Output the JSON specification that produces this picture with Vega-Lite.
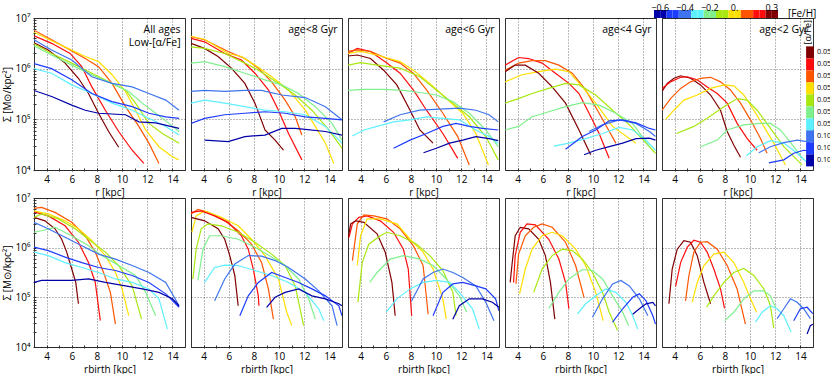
{
"$schema":"https://vega.github.io/schema/vega-lite/v6.json",
"background":"white",
"padding":{"left":2,"top":10,"right":0,"bottom":0},
"config":{
 "font":"Open Sans",
 "view":{"stroke":"#333","strokeWidth":1},
 "axis":{"labelFont":"Open Sans","labelFontSize":10,"labelColor":"#000","titleFont":"Open Sans","titleFontSize":10,"titleFontWeight":"normal","titleColor":"#000","grid":true,"gridColor":"#000","gridDash":[1,2],"domain":false,"tickColor":"#333","tickSize":-3,"labelPadding":6,"labelOverlap":false,"titlePadding":3}
,
 "legend":{"labelFont":"Open Sans","titleFont":"Open Sans","titleFontWeight":"normal","labelColor":"#000","titleColor":"#000"}
},
"datasets":{
"top":[
{"panel":"all","label":"All ages\nLow-[α/Fe]"},{"panel":"8","label":"age<8 Gyr"},{"panel":"6","label":"age<6 Gyr"},{"panel":"4","label":"age<4 Gyr"},{"panel":"2","label":"age<2 Gyr"},
{"panel":"all","feh":0.3,"r":3.0,"logS":6.51},{"panel":"all","feh":0.3,"r":4.13,"logS":6.37},{"panel":"all","feh":0.3,"r":5.47,"logS":6.11},{"panel":"all","feh":0.3,"r":6.53,"logS":5.81},{"panel":"all","feh":0.3,"r":7.33,"logS":5.51},{"panel":"all","feh":0.3,"r":8.13,"logS":5.12},{"panel":"all","feh":0.3,"r":8.93,"logS":4.76},{"panel":"all","feh":0.3,"r":9.73,"logS":4.45},
{"panel":"all","feh":0.2,"r":3.0,"logS":6.65},{"panel":"all","feh":0.2,"r":4.4,"logS":6.5},{"panel":"all","feh":0.2,"r":5.87,"logS":6.3},{"panel":"all","feh":0.2,"r":6.8,"logS":6.04},{"panel":"all","feh":0.2,"r":7.6,"logS":5.64},{"panel":"all","feh":0.2,"r":8.67,"logS":5.18},{"panel":"all","feh":0.2,"r":9.73,"logS":4.76},{"panel":"all","feh":0.2,"r":10.8,"logS":4.39},{"panel":"all","feh":0.2,"r":11.73,"logS":4.13},
{"panel":"all","feh":0.1,"r":3.0,"logS":6.76},{"panel":"all","feh":0.1,"r":4.4,"logS":6.57},{"panel":"all","feh":0.1,"r":5.87,"logS":6.37},{"panel":"all","feh":0.1,"r":7.07,"logS":6.2},{"panel":"all","feh":0.1,"r":8.13,"logS":6.04},{"panel":"all","feh":0.1,"r":9.2,"logS":5.71},{"panel":"all","feh":0.1,"r":10.27,"logS":5.25},{"panel":"all","feh":0.1,"r":11.33,"logS":4.86},{"panel":"all","feh":0.1,"r":12.13,"logS":4.53},{"panel":"all","feh":0.1,"r":12.93,"logS":4.13},
{"panel":"all","feh":0,"r":3.0,"logS":6.72},{"panel":"all","feh":0,"r":4.4,"logS":6.55},{"panel":"all","feh":0,"r":5.87,"logS":6.38},{"panel":"all","feh":0,"r":7.07,"logS":6.24},{"panel":"all","feh":0,"r":8.13,"logS":6.14},{"panel":"all","feh":0,"r":9.2,"logS":5.88},{"panel":"all","feh":0,"r":10.27,"logS":5.55},{"panel":"all","feh":0,"r":11.07,"logS":5.18},{"panel":"all","feh":0,"r":11.87,"logS":4.79},{"panel":"all","feh":0,"r":12.93,"logS":4.46},{"panel":"all","feh":0,"r":14.0,"logS":4.26},{"panel":"all","feh":0,"r":14.5,"logS":4.2},
{"panel":"all","feh":-0.1,"r":3.0,"logS":6.49},{"panel":"all","feh":-0.1,"r":4.4,"logS":6.3},{"panel":"all","feh":-0.1,"r":6.0,"logS":6.11},{"panel":"all","feh":-0.1,"r":7.6,"logS":5.91},{"panel":"all","feh":-0.1,"r":9.2,"logS":5.71},{"panel":"all","feh":-0.1,"r":10.27,"logS":5.58},{"panel":"all","feh":-0.1,"r":11.07,"logS":5.32},{"panel":"all","feh":-0.1,"r":12.13,"logS":4.92},{"panel":"all","feh":-0.1,"r":13.2,"logS":4.72},{"panel":"all","feh":-0.1,"r":14.53,"logS":4.53},
{"panel":"all","feh":-0.2,"r":3.0,"logS":6.45},{"panel":"all","feh":-0.2,"r":4.4,"logS":6.27},{"panel":"all","feh":-0.2,"r":6.0,"logS":6.07},{"panel":"all","feh":-0.2,"r":7.6,"logS":5.88},{"panel":"all","feh":-0.2,"r":9.2,"logS":5.71},{"panel":"all","feh":-0.2,"r":10.53,"logS":5.55},{"panel":"all","feh":-0.2,"r":11.6,"logS":5.32},{"panel":"all","feh":-0.2,"r":12.67,"logS":5.12},{"panel":"all","feh":-0.2,"r":13.73,"logS":4.92},{"panel":"all","feh":-0.2,"r":14.53,"logS":4.76},
{"panel":"all","feh":-0.3,"r":3.0,"logS":6.0},{"panel":"all","feh":-0.3,"r":4.4,"logS":5.91},{"panel":"all","feh":-0.3,"r":6.0,"logS":5.68},{"panel":"all","feh":-0.3,"r":7.6,"logS":5.51},{"panel":"all","feh":-0.3,"r":9.2,"logS":5.32},{"panel":"all","feh":-0.3,"r":10.8,"logS":5.18},{"panel":"all","feh":-0.3,"r":12.13,"logS":5.02},{"panel":"all","feh":-0.3,"r":13.47,"logS":4.86},{"panel":"all","feh":-0.3,"r":14.53,"logS":4.69},
{"panel":"all","feh":-0.4,"r":3.0,"logS":6.57},{"panel":"all","feh":-0.4,"r":4.4,"logS":6.37},{"panel":"all","feh":-0.4,"r":6.0,"logS":6.17},{"panel":"all","feh":-0.4,"r":7.6,"logS":5.84},{"panel":"all","feh":-0.4,"r":9.2,"logS":5.71},{"panel":"all","feh":-0.4,"r":10.8,"logS":5.64},{"panel":"all","feh":-0.4,"r":12.13,"logS":5.51},{"panel":"all","feh":-0.4,"r":13.47,"logS":5.38},{"panel":"all","feh":-0.4,"r":14.53,"logS":5.18},
{"panel":"all","feh":-0.5,"r":3.0,"logS":6.1},{"panel":"all","feh":-0.5,"r":4.4,"logS":6.0},{"panel":"all","feh":-0.5,"r":6.0,"logS":5.78},{"panel":"all","feh":-0.5,"r":7.6,"logS":5.51},{"panel":"all","feh":-0.5,"r":9.2,"logS":5.35},{"panel":"all","feh":-0.5,"r":10.8,"logS":5.25},{"panel":"all","feh":-0.5,"r":12.13,"logS":5.12},{"panel":"all","feh":-0.5,"r":13.47,"logS":5.05},{"panel":"all","feh":-0.5,"r":14.53,"logS":5.02},
{"panel":"all","feh":-0.6,"r":3.0,"logS":5.57},{"panel":"all","feh":-0.6,"r":4.4,"logS":5.45},{"panel":"all","feh":-0.6,"r":6.0,"logS":5.28},{"panel":"all","feh":-0.6,"r":7.07,"logS":5.18},{"panel":"all","feh":-0.6,"r":8.13,"logS":5.12},{"panel":"all","feh":-0.6,"r":10.27,"logS":5.09},{"panel":"all","feh":-0.6,"r":11.33,"logS":4.95},{"panel":"all","feh":-0.6,"r":12.67,"logS":4.93},{"panel":"all","feh":-0.6,"r":14.53,"logS":4.82},

{"panel":"8","feh":0.1,"r":3.0,"logS":6.63},{"panel":"8","feh":0.1,"r":4.08,"logS":6.57},{"panel":"8","feh":0.1,"r":5.95,"logS":6.34},{"panel":"8","feh":0.1,"r":7.28,"logS":6.2},{"panel":"8","feh":0.1,"r":8.35,"logS":6.01},{"panel":"8","feh":0.1,"r":9.41,"logS":5.74},{"panel":"8","feh":0.1,"r":10.48,"logS":5.38},{"panel":"8","feh":0.1,"r":11.28,"logS":5.05},{"panel":"8","feh":0.1,"r":11.81,"logS":4.69},
{"panel":"8","feh":0,"r":3.0,"logS":6.64},{"panel":"8","feh":0,"r":4.08,"logS":6.58},{"panel":"8","feh":0,"r":5.95,"logS":6.3},{"panel":"8","feh":0,"r":7.01,"logS":6.24},{"panel":"8","feh":0,"r":8.08,"logS":6.07},{"panel":"8","feh":0,"r":9.41,"logS":5.84},{"panel":"8","feh":0,"r":10.75,"logS":5.58},{"panel":"8","feh":0,"r":12.08,"logS":5.18},{"panel":"8","feh":0,"r":12.88,"logS":4.86},{"panel":"8","feh":0,"r":13.68,"logS":4.53},{"panel":"8","feh":0,"r":14.35,"logS":4.13},
{"panel":"8","feh":0.2,"r":3.0,"logS":6.6},{"panel":"8","feh":0.2,"r":4.08,"logS":6.53},{"panel":"8","feh":0.2,"r":5.68,"logS":6.3},{"panel":"8","feh":0.2,"r":7.01,"logS":6.17},{"panel":"8","feh":0.2,"r":8.08,"logS":5.91},{"panel":"8","feh":0.2,"r":9.15,"logS":5.58},{"panel":"8","feh":0.2,"r":9.95,"logS":5.18},{"panel":"8","feh":0.2,"r":10.75,"logS":4.72},{"panel":"8","feh":0.2,"r":11.81,"logS":4.2},
{"panel":"8","feh":0.3,"r":3.0,"logS":6.5},{"panel":"8","feh":0.3,"r":4.08,"logS":6.4},{"panel":"8","feh":0.3,"r":5.15,"logS":6.24},{"panel":"8","feh":0.3,"r":6.21,"logS":6.01},{"panel":"8","feh":0.3,"r":7.28,"logS":5.71},{"panel":"8","feh":0.3,"r":8.08,"logS":5.32},{"panel":"8","feh":0.3,"r":8.88,"logS":4.79},{"panel":"8","feh":0.3,"r":9.68,"logS":4.59},{"panel":"8","feh":0.3,"r":10.35,"logS":4.39},
{"panel":"8","feh":-0.1,"r":3.0,"logS":6.43},{"panel":"8","feh":-0.1,"r":4.08,"logS":6.4},{"panel":"8","feh":-0.1,"r":5.68,"logS":6.3},{"panel":"8","feh":-0.1,"r":7.28,"logS":6.11},{"panel":"8","feh":-0.1,"r":8.35,"logS":5.97},{"panel":"8","feh":-0.1,"r":9.95,"logS":5.71},{"panel":"8","feh":-0.1,"r":11.28,"logS":5.48},{"panel":"8","feh":-0.1,"r":12.61,"logS":5.18},{"panel":"8","feh":-0.1,"r":13.95,"logS":4.79},{"panel":"8","feh":-0.1,"r":15.0,"logS":4.43},
{"panel":"8","feh":-0.2,"r":3.0,"logS":6.11},{"panel":"8","feh":-0.2,"r":4.08,"logS":6.14},{"panel":"8","feh":-0.2,"r":5.68,"logS":6.04},{"panel":"8","feh":-0.2,"r":7.28,"logS":5.91},{"panel":"8","feh":-0.2,"r":8.88,"logS":5.78},{"panel":"8","feh":-0.2,"r":10.21,"logS":5.68},{"panel":"8","feh":-0.2,"r":11.55,"logS":5.51},{"panel":"8","feh":-0.2,"r":12.88,"logS":5.25},{"panel":"8","feh":-0.2,"r":14.21,"logS":4.92},{"panel":"8","feh":-0.2,"r":15.0,"logS":4.59},
{"panel":"8","feh":-0.3,"r":3.0,"logS":5.32},{"panel":"8","feh":-0.3,"r":4.08,"logS":5.38},{"panel":"8","feh":-0.3,"r":5.68,"logS":5.32},{"panel":"8","feh":-0.3,"r":7.28,"logS":5.25},{"panel":"8","feh":-0.3,"r":8.88,"logS":5.18},{"panel":"8","feh":-0.3,"r":10.48,"logS":5.15},{"panel":"8","feh":-0.3,"r":12.08,"logS":5.09},{"panel":"8","feh":-0.3,"r":13.68,"logS":4.86},{"panel":"8","feh":-0.3,"r":15.0,"logS":4.53},
{"panel":"8","feh":-0.4,"r":3.0,"logS":5.55},{"panel":"8","feh":-0.4,"r":4.08,"logS":5.57},{"panel":"8","feh":-0.4,"r":5.68,"logS":5.55},{"panel":"8","feh":-0.4,"r":7.28,"logS":5.57},{"panel":"8","feh":-0.4,"r":8.61,"logS":5.57},{"panel":"8","feh":-0.4,"r":10.21,"logS":5.48},{"panel":"8","feh":-0.4,"r":12.08,"logS":5.43},{"panel":"8","feh":-0.4,"r":13.68,"logS":5.25},{"panel":"8","feh":-0.4,"r":15.0,"logS":4.99},
{"panel":"8","feh":-0.5,"r":3.0,"logS":4.92},{"panel":"8","feh":-0.5,"r":4.08,"logS":5.02},{"panel":"8","feh":-0.5,"r":5.68,"logS":5.09},{"panel":"8","feh":-0.5,"r":7.28,"logS":5.12},{"panel":"8","feh":-0.5,"r":8.88,"logS":5.15},{"panel":"8","feh":-0.5,"r":10.48,"logS":5.12},{"panel":"8","feh":-0.5,"r":12.08,"logS":5.05},{"panel":"8","feh":-0.5,"r":13.68,"logS":5.02},{"panel":"8","feh":-0.5,"r":15.0,"logS":4.99},
{"panel":"8","feh":-0.6,"r":4.08,"logS":4.59},{"panel":"8","feh":-0.6,"r":5.95,"logS":4.56},{"panel":"8","feh":-0.6,"r":7.28,"logS":4.66},{"panel":"8","feh":-0.6,"r":8.88,"logS":4.69},{"panel":"8","feh":-0.6,"r":10.21,"logS":4.82},{"panel":"8","feh":-0.6,"r":11.28,"logS":4.82},{"panel":"8","feh":-0.6,"r":12.08,"logS":4.8},{"panel":"8","feh":-0.6,"r":13.68,"logS":4.76},{"panel":"8","feh":-0.6,"r":15.0,"logS":4.69},

{"panel":"6","feh":0.2,"r":3.01,"logS":6.3},{"panel":"6","feh":0.2,"r":3.74,"logS":6.4},{"panel":"6","feh":0.2,"r":4.79,"logS":6.34},{"panel":"6","feh":0.2,"r":6.09,"logS":6.11},{"panel":"6","feh":0.2,"r":7.14,"logS":5.91},{"panel":"6","feh":0.2,"r":8.19,"logS":5.58},{"panel":"6","feh":0.2,"r":9.24,"logS":5.18},{"panel":"6","feh":0.2,"r":10.54,"logS":4.72},{"panel":"6","feh":0.2,"r":11.72,"logS":4.23},
{"panel":"6","feh":0.1,"r":3.01,"logS":6.34},{"panel":"6","feh":0.1,"r":3.74,"logS":6.37},{"panel":"6","feh":0.1,"r":4.79,"logS":6.34},{"panel":"6","feh":0.1,"r":6.09,"logS":6.2},{"panel":"6","feh":0.1,"r":7.14,"logS":6.11},{"panel":"6","feh":0.1,"r":8.19,"logS":5.91},{"panel":"6","feh":0.1,"r":9.24,"logS":5.58},{"panel":"6","feh":0.1,"r":10.54,"logS":5.12},{"panel":"6","feh":0.1,"r":11.72,"logS":4.66},{"panel":"6","feh":0.1,"r":12.64,"logS":4.1},
{"panel":"6","feh":0,"r":3.01,"logS":6.3},{"panel":"6","feh":0,"r":4.0,"logS":6.34},{"panel":"6","feh":0,"r":5.31,"logS":6.27},{"panel":"6","feh":0,"r":7.14,"logS":6.14},{"panel":"6","feh":0,"r":8.19,"logS":5.97},{"panel":"6","feh":0,"r":9.5,"logS":5.71},{"panel":"6","feh":0,"r":10.81,"logS":5.41},{"panel":"6","feh":0,"r":12.12,"logS":5.12},{"panel":"6","feh":0,"r":13.16,"logS":4.72},{"panel":"6","feh":0,"r":14.16,"logS":4.1},
{"panel":"6","feh":0.3,"r":3.01,"logS":6.25},{"panel":"6","feh":0.3,"r":3.74,"logS":6.27},{"panel":"6","feh":0.3,"r":4.79,"logS":6.2},{"panel":"6","feh":0.3,"r":5.83,"logS":5.97},{"panel":"6","feh":0.3,"r":6.88,"logS":5.68},{"panel":"6","feh":0.3,"r":7.93,"logS":5.18},{"panel":"6","feh":0.3,"r":8.71,"logS":4.79},{"panel":"6","feh":0.3,"r":9.76,"logS":4.53},
{"panel":"6","feh":-0.1,"r":3.01,"logS":6.07},{"panel":"6","feh":-0.1,"r":4.0,"logS":6.12},{"panel":"6","feh":-0.1,"r":5.31,"logS":6.07},{"panel":"6","feh":-0.1,"r":7.14,"logS":6.01},{"panel":"6","feh":-0.1,"r":8.71,"logS":5.84},{"panel":"6","feh":-0.1,"r":10.02,"logS":5.58},{"panel":"6","feh":-0.1,"r":11.33,"logS":5.32},{"panel":"6","feh":-0.1,"r":12.64,"logS":5.05},{"panel":"6","feh":-0.1,"r":13.95,"logS":4.66},{"panel":"6","feh":-0.1,"r":14.94,"logS":4.2},
{"panel":"6","feh":-0.2,"r":3.01,"logS":5.57},{"panel":"6","feh":-0.2,"r":4.26,"logS":5.59},{"panel":"6","feh":-0.2,"r":5.83,"logS":5.59},{"panel":"6","feh":-0.2,"r":7.4,"logS":5.57},{"panel":"6","feh":-0.2,"r":8.71,"logS":5.53},{"panel":"6","feh":-0.2,"r":10.02,"logS":5.48},{"panel":"6","feh":-0.2,"r":11.33,"logS":5.35},{"panel":"6","feh":-0.2,"r":12.64,"logS":5.12},{"panel":"6","feh":-0.2,"r":13.95,"logS":4.79},{"panel":"6","feh":-0.2,"r":14.94,"logS":4.46},
{"panel":"6","feh":-0.4,"r":5.83,"logS":4.95},{"panel":"6","feh":-0.4,"r":7.14,"logS":5.09},{"panel":"6","feh":-0.4,"r":8.71,"logS":5.18},{"panel":"6","feh":-0.4,"r":10.28,"logS":5.2},{"panel":"6","feh":-0.4,"r":11.85,"logS":5.22},{"panel":"6","feh":-0.4,"r":13.16,"logS":5.18},{"panel":"6","feh":-0.4,"r":14.21,"logS":5.09},{"panel":"6","feh":-0.4,"r":14.94,"logS":4.95},
{"panel":"6","feh":-0.3,"r":3.35,"logS":4.67},{"panel":"6","feh":-0.3,"r":4.26,"logS":4.79},{"panel":"6","feh":-0.3,"r":5.31,"logS":4.86},{"panel":"6","feh":-0.3,"r":6.62,"logS":4.95},{"panel":"6","feh":-0.3,"r":7.93,"logS":4.99},{"panel":"6","feh":-0.3,"r":9.24,"logS":5.05},{"panel":"6","feh":-0.3,"r":10.54,"logS":5.02},{"panel":"6","feh":-0.3,"r":11.85,"logS":4.99},{"panel":"6","feh":-0.3,"r":13.16,"logS":4.79},{"panel":"6","feh":-0.3,"r":14.21,"logS":4.66},{"panel":"6","feh":-0.3,"r":14.94,"logS":4.53},
{"panel":"6","feh":-0.5,"r":6.62,"logS":4.43},{"panel":"6","feh":-0.5,"r":7.93,"logS":4.59},{"panel":"6","feh":-0.5,"r":9.24,"logS":4.72},{"panel":"6","feh":-0.5,"r":10.54,"logS":4.86},{"panel":"6","feh":-0.5,"r":11.59,"logS":4.92},{"panel":"6","feh":-0.5,"r":12.64,"logS":4.86},{"panel":"6","feh":-0.5,"r":13.69,"logS":4.82},{"panel":"6","feh":-0.5,"r":14.94,"logS":4.79},
{"panel":"6","feh":-0.6,"r":9.0,"logS":4.34},{"panel":"6","feh":-0.6,"r":10.02,"logS":4.43},{"panel":"6","feh":-0.6,"r":11.07,"logS":4.53},{"panel":"6","feh":-0.6,"r":12.12,"logS":4.59},{"panel":"6","feh":-0.6,"r":13.16,"logS":4.66},{"panel":"6","feh":-0.6,"r":14.21,"logS":4.62},{"panel":"6","feh":-0.6,"r":14.94,"logS":4.58},

{"panel":"4","feh":0.2,"r":3.01,"logS":6.07},{"panel":"4","feh":0.2,"r":4.08,"logS":6.22},{"panel":"4","feh":0.2,"r":4.88,"logS":6.2},{"panel":"4","feh":0.2,"r":5.95,"logS":6.11},{"panel":"4","feh":0.2,"r":7.01,"logS":5.91},{"panel":"4","feh":0.2,"r":8.08,"logS":5.71},{"panel":"4","feh":0.2,"r":8.88,"logS":5.51},{"panel":"4","feh":0.2,"r":9.68,"logS":5.12},{"panel":"4","feh":0.2,"r":10.48,"logS":4.72},{"panel":"4","feh":0.2,"r":11.28,"logS":4.23},
{"panel":"4","feh":0.1,"r":3.01,"logS":5.97},{"panel":"4","feh":0.1,"r":4.08,"logS":6.11},{"panel":"4","feh":0.1,"r":5.15,"logS":6.16},{"panel":"4","feh":0.1,"r":6.21,"logS":6.16},{"panel":"4","feh":0.1,"r":7.28,"logS":6.07},{"panel":"4","feh":0.1,"r":8.35,"logS":5.91},{"panel":"4","feh":0.1,"r":9.41,"logS":5.58},{"panel":"4","feh":0.1,"r":10.48,"logS":5.12},{"panel":"4","feh":0.1,"r":11.81,"logS":4.53},
{"panel":"4","feh":0,"r":3.01,"logS":5.74},{"panel":"4","feh":0,"r":4.35,"logS":5.88},{"panel":"4","feh":0,"r":5.68,"logS":5.94},{"panel":"4","feh":0,"r":7.01,"logS":5.99},{"panel":"4","feh":0,"r":8.08,"logS":5.94},{"panel":"4","feh":0,"r":9.15,"logS":5.64},{"panel":"4","feh":0,"r":10.21,"logS":5.32},{"panel":"4","feh":0,"r":11.55,"logS":4.86},{"panel":"4","feh":0,"r":13.41,"logS":4.53},
{"panel":"4","feh":0.3,"r":3.01,"logS":5.94},{"panel":"4","feh":0.3,"r":3.81,"logS":6.07},{"panel":"4","feh":0.3,"r":4.61,"logS":6.07},{"panel":"4","feh":0.3,"r":5.68,"logS":5.91},{"panel":"4","feh":0.3,"r":6.75,"logS":5.64},{"panel":"4","feh":0.3,"r":7.81,"logS":5.32},{"panel":"4","feh":0.3,"r":8.88,"logS":4.79},{"panel":"4","feh":0.3,"r":9.81,"logS":4.3},
{"panel":"4","feh":-0.1,"r":3.01,"logS":5.32},{"panel":"4","feh":-0.1,"r":4.08,"logS":5.41},{"panel":"4","feh":-0.1,"r":5.15,"logS":5.51},{"panel":"4","feh":-0.1,"r":6.48,"logS":5.61},{"panel":"4","feh":-0.1,"r":7.81,"logS":5.71},{"panel":"4","feh":-0.1,"r":8.88,"logS":5.68},{"panel":"4","feh":-0.1,"r":10.21,"logS":5.48},{"panel":"4","feh":-0.1,"r":11.55,"logS":5.18},{"panel":"4","feh":-0.1,"r":12.88,"logS":4.89},{"panel":"4","feh":-0.1,"r":14.21,"logS":4.53},{"panel":"4","feh":-0.1,"r":14.96,"logS":4.33},
{"panel":"4","feh":-0.2,"r":3.01,"logS":4.79},{"panel":"4","feh":-0.2,"r":4.08,"logS":4.86},{"panel":"4","feh":-0.2,"r":5.15,"logS":5.05},{"panel":"4","feh":-0.2,"r":6.48,"logS":5.15},{"panel":"4","feh":-0.2,"r":7.81,"logS":5.25},{"panel":"4","feh":-0.2,"r":9.15,"logS":5.33},{"panel":"4","feh":-0.2,"r":10.48,"logS":5.28},{"panel":"4","feh":-0.2,"r":11.81,"logS":5.12},{"panel":"4","feh":-0.2,"r":13.15,"logS":4.92},{"panel":"4","feh":-0.2,"r":14.48,"logS":4.46},
{"panel":"4","feh":-0.4,"r":9.68,"logS":4.76},{"panel":"4","feh":-0.4,"r":10.75,"logS":4.89},{"panel":"4","feh":-0.4,"r":12.08,"logS":4.99},{"panel":"4","feh":-0.4,"r":13.41,"logS":4.92},{"panel":"4","feh":-0.4,"r":14.48,"logS":4.76},{"panel":"4","feh":-0.4,"r":14.96,"logS":4.66},
{"panel":"4","feh":-0.3,"r":6.88,"logS":4.47},{"panel":"4","feh":-0.3,"r":8.08,"logS":4.53},{"panel":"4","feh":-0.3,"r":9.41,"logS":4.62},{"panel":"4","feh":-0.3,"r":10.75,"logS":4.72},{"panel":"4","feh":-0.3,"r":12.08,"logS":4.84},{"panel":"4","feh":-0.3,"r":13.15,"logS":4.79},{"panel":"4","feh":-0.3,"r":14.21,"logS":4.59},{"panel":"4","feh":-0.3,"r":14.96,"logS":4.39},
{"panel":"4","feh":-0.5,"r":7.81,"logS":4.41},{"panel":"4","feh":-0.5,"r":9.15,"logS":4.66},{"panel":"4","feh":-0.5,"r":10.21,"logS":4.79},{"panel":"4","feh":-0.5,"r":11.28,"logS":4.97},{"panel":"4","feh":-0.5,"r":12.35,"logS":4.99},{"panel":"4","feh":-0.5,"r":13.41,"logS":4.93},{"panel":"4","feh":-0.5,"r":14.48,"logS":4.82},{"panel":"4","feh":-0.5,"r":14.96,"logS":4.79},
{"panel":"4","feh":-0.6,"r":9.28,"logS":4.3},{"panel":"4","feh":-0.6,"r":10.21,"logS":4.39},{"panel":"4","feh":-0.6,"r":11.28,"logS":4.46},{"panel":"4","feh":-0.6,"r":12.35,"logS":4.53},{"panel":"4","feh":-0.6,"r":13.41,"logS":4.62},{"panel":"4","feh":-0.6,"r":14.48,"logS":4.63},{"panel":"4","feh":-0.6,"r":14.96,"logS":4.59},

{"panel":"2","feh":0.3,"r":3.0,"logS":5.55},{"panel":"2","feh":0.3,"r":3.42,"logS":5.71},{"panel":"2","feh":0.3,"r":3.95,"logS":5.81},{"panel":"2","feh":0.3,"r":4.48,"logS":5.86},{"panel":"2","feh":0.3,"r":5.27,"logS":5.81},{"panel":"2","feh":0.3,"r":6.06,"logS":5.68},{"panel":"2","feh":0.3,"r":6.86,"logS":5.48},{"panel":"2","feh":0.3,"r":7.65,"logS":5.18},{"panel":"2","feh":0.3,"r":8.18,"logS":4.76},{"panel":"2","feh":0.3,"r":8.71,"logS":4.49},{"panel":"2","feh":0.3,"r":9.24,"logS":4.25},
{"panel":"2","feh":0.2,"r":3.0,"logS":5.61},{"panel":"2","feh":0.2,"r":3.68,"logS":5.74},{"panel":"2","feh":0.2,"r":4.48,"logS":5.83},{"panel":"2","feh":0.2,"r":5.01,"logS":5.84},{"panel":"2","feh":0.2,"r":5.8,"logS":5.78},{"panel":"2","feh":0.2,"r":6.59,"logS":5.64},{"panel":"2","feh":0.2,"r":7.39,"logS":5.51},{"panel":"2","feh":0.2,"r":8.18,"logS":5.32},{"panel":"2","feh":0.2,"r":8.97,"logS":4.92},{"panel":"2","feh":0.2,"r":9.77,"logS":4.62},{"panel":"2","feh":0.2,"r":10.56,"logS":4.39},
{"panel":"2","feh":0.1,"r":3.0,"logS":5.18},{"panel":"2","feh":0.1,"r":3.68,"logS":5.41},{"panel":"2","feh":0.1,"r":4.48,"logS":5.61},{"panel":"2","feh":0.1,"r":5.27,"logS":5.74},{"panel":"2","feh":0.1,"r":6.06,"logS":5.81},{"panel":"2","feh":0.1,"r":6.86,"logS":5.83},{"panel":"2","feh":0.1,"r":7.65,"logS":5.74},{"panel":"2","feh":0.1,"r":8.44,"logS":5.58},{"panel":"2","feh":0.1,"r":9.24,"logS":5.32},{"panel":"2","feh":0.1,"r":10.03,"logS":4.99},{"panel":"2","feh":0.1,"r":10.83,"logS":4.62},{"panel":"2","feh":0.1,"r":11.35,"logS":4.33},
{"panel":"2","feh":0,"r":3.29,"logS":5.0},{"panel":"2","feh":0,"r":3.95,"logS":5.18},{"panel":"2","feh":0,"r":4.74,"logS":5.38},{"panel":"2","feh":0,"r":5.8,"logS":5.48},{"panel":"2","feh":0,"r":6.86,"logS":5.61},{"panel":"2","feh":0,"r":7.92,"logS":5.68},{"panel":"2","feh":0,"r":8.71,"logS":5.66},{"panel":"2","feh":0,"r":9.5,"logS":5.48},{"panel":"2","feh":0,"r":10.3,"logS":5.18},{"panel":"2","feh":0,"r":11.09,"logS":4.86},{"panel":"2","feh":0,"r":11.88,"logS":4.53},{"panel":"2","feh":0,"r":12.81,"logS":4.1},
{"panel":"2","feh":-0.1,"r":4.16,"logS":4.72},{"panel":"2","feh":-0.1,"r":5.53,"logS":4.86},{"panel":"2","feh":-0.1,"r":6.59,"logS":5.02},{"panel":"2","feh":-0.1,"r":7.92,"logS":5.25},{"panel":"2","feh":-0.1,"r":8.97,"logS":5.41},{"panel":"2","feh":-0.1,"r":9.77,"logS":5.38},{"panel":"2","feh":-0.1,"r":10.56,"logS":5.18},{"panel":"2","feh":-0.1,"r":11.62,"logS":4.82},{"panel":"2","feh":-0.1,"r":12.68,"logS":4.46},{"panel":"2","feh":-0.1,"r":14.13,"logS":4.1},
{"panel":"2","feh":-0.2,"r":6.06,"logS":4.46},{"panel":"2","feh":-0.2,"r":7.39,"logS":4.59},{"panel":"2","feh":-0.2,"r":8.18,"logS":4.79},{"panel":"2","feh":-0.2,"r":9.5,"logS":4.89},{"panel":"2","feh":-0.2,"r":10.83,"logS":4.92},{"panel":"2","feh":-0.2,"r":11.62,"logS":4.92},{"panel":"2","feh":-0.2,"r":12.41,"logS":4.79},{"panel":"2","feh":-0.2,"r":13.47,"logS":4.46},{"panel":"2","feh":-0.2,"r":14.26,"logS":4.2},
{"panel":"2","feh":-0.3,"r":9.71,"logS":4.28},{"panel":"2","feh":-0.3,"r":10.56,"logS":4.46},{"panel":"2","feh":-0.3,"r":11.62,"logS":4.58},{"panel":"2","feh":-0.3,"r":12.68,"logS":4.53},{"panel":"2","feh":-0.3,"r":13.74,"logS":4.33},{"panel":"2","feh":-0.3,"r":14.66,"logS":4.12},
{"panel":"2","feh":-0.4,"r":10.69,"logS":4.34},{"panel":"2","feh":-0.4,"r":11.62,"logS":4.46},{"panel":"2","feh":-0.4,"r":12.68,"logS":4.54},{"panel":"2","feh":-0.4,"r":13.74,"logS":4.59},{"panel":"2","feh":-0.4,"r":14.53,"logS":4.56},{"panel":"2","feh":-0.4,"r":14.98,"logS":4.49},
{"panel":"2","feh":-0.5,"r":11.49,"logS":4.14},{"panel":"2","feh":-0.5,"r":12.68,"logS":4.2},{"panel":"2","feh":-0.5,"r":13.47,"logS":4.33},{"panel":"2","feh":-0.5,"r":14.26,"logS":4.39},{"panel":"2","feh":-0.5,"r":14.98,"logS":4.37}
],
"bottom":[
{"panel":"all","feh":0.1,"r":3.0,"logS":6.79},{"panel":"all","feh":0.1,"r":3.6,"logS":6.81},{"panel":"all","feh":0.1,"r":4.67,"logS":6.71},{"panel":"all","feh":0.1,"r":6.0,"logS":6.51},{"panel":"all","feh":0.1,"r":7.07,"logS":6.24},{"panel":"all","feh":0.1,"r":7.87,"logS":5.91},{"panel":"all","feh":0.1,"r":8.53,"logS":5.5},{"panel":"all","feh":0.1,"r":9.07,"logS":5.1},{"panel":"all","feh":0.1,"r":9.47,"logS":4.46},
{"panel":"all","feh":0.2,"r":3.0,"logS":6.72},{"panel":"all","feh":0.2,"r":4.13,"logS":6.64},{"panel":"all","feh":0.2,"r":5.47,"logS":6.44},{"panel":"all","feh":0.2,"r":6.53,"logS":6.11},{"panel":"all","feh":0.2,"r":7.33,"logS":5.7},{"panel":"all","feh":0.2,"r":7.87,"logS":5.3},{"panel":"all","feh":0.2,"r":8.27,"logS":4.53},
{"panel":"all","feh":0,"r":3.0,"logS":6.74},{"panel":"all","feh":0,"r":4.13,"logS":6.68},{"panel":"all","feh":0,"r":5.47,"logS":6.54},{"panel":"all","feh":0,"r":6.53,"logS":6.38},{"panel":"all","feh":0,"r":7.6,"logS":6.14},{"panel":"all","feh":0,"r":8.67,"logS":5.84},{"panel":"all","feh":0,"r":9.47,"logS":5.5},{"panel":"all","feh":0,"r":10.0,"logS":5.17},{"panel":"all","feh":0,"r":10.53,"logS":4.63},
{"panel":"all","feh":0.3,"r":3.0,"logS":6.61},{"panel":"all","feh":0.3,"r":3.87,"logS":6.54},{"panel":"all","feh":0.3,"r":4.67,"logS":6.38},{"panel":"all","feh":0.3,"r":5.2,"logS":6.17},{"panel":"all","feh":0.3,"r":5.6,"logS":5.91},{"panel":"all","feh":0.3,"r":6.0,"logS":5.57},{"panel":"all","feh":0.3,"r":6.32,"logS":5.3},{"panel":"all","feh":0.3,"r":6.53,"logS":4.87},
{"panel":"all","feh":-0.1,"r":3.0,"logS":6.61},{"panel":"all","feh":-0.1,"r":3.6,"logS":6.68},{"panel":"all","feh":-0.1,"r":4.93,"logS":6.58},{"panel":"all","feh":-0.1,"r":6.27,"logS":6.38},{"panel":"all","feh":-0.1,"r":7.33,"logS":6.17},{"panel":"all","feh":-0.1,"r":8.67,"logS":5.91},{"panel":"all","feh":-0.1,"r":9.73,"logS":5.64},{"panel":"all","feh":-0.1,"r":10.8,"logS":5.23},{"panel":"all","feh":-0.1,"r":11.55,"logS":4.56},
{"panel":"all","feh":-0.2,"r":3.0,"logS":6.31},{"panel":"all","feh":-0.2,"r":3.6,"logS":6.34},{"panel":"all","feh":-0.2,"r":4.67,"logS":6.41},{"panel":"all","feh":-0.2,"r":6.0,"logS":6.24},{"panel":"all","feh":-0.2,"r":7.33,"logS":6.04},{"panel":"all","feh":-0.2,"r":8.4,"logS":5.84},{"panel":"all","feh":-0.2,"r":9.73,"logS":5.64},{"panel":"all","feh":-0.2,"r":11.07,"logS":5.44},{"panel":"all","feh":-0.2,"r":11.87,"logS":5.1},{"panel":"all","feh":-0.2,"r":12.67,"logS":4.63},
{"panel":"all","feh":-0.4,"r":3.0,"logS":6.51},{"panel":"all","feh":-0.4,"r":4.13,"logS":6.38},{"panel":"all","feh":-0.4,"r":5.47,"logS":6.21},{"panel":"all","feh":-0.4,"r":6.8,"logS":6.04},{"panel":"all","feh":-0.4,"r":8.13,"logS":5.87},{"panel":"all","feh":-0.4,"r":9.47,"logS":5.77},{"panel":"all","feh":-0.4,"r":10.8,"logS":5.64},{"panel":"all","feh":-0.4,"r":12.13,"logS":5.5},{"panel":"all","feh":-0.4,"r":13.47,"logS":5.3},{"panel":"all","feh":-0.4,"r":14.53,"logS":4.83},
{"panel":"all","feh":-0.5,"r":3.0,"logS":6.01},{"panel":"all","feh":-0.5,"r":4.13,"logS":5.94},{"panel":"all","feh":-0.5,"r":5.47,"logS":5.81},{"panel":"all","feh":-0.5,"r":6.8,"logS":5.7},{"panel":"all","feh":-0.5,"r":8.13,"logS":5.6},{"panel":"all","feh":-0.5,"r":9.47,"logS":5.54},{"panel":"all","feh":-0.5,"r":10.8,"logS":5.44},{"panel":"all","feh":-0.5,"r":12.13,"logS":5.3},{"panel":"all","feh":-0.5,"r":13.47,"logS":5.07},{"panel":"all","feh":-0.5,"r":14.53,"logS":4.8},
{"panel":"all","feh":-0.3,"r":3.0,"logS":5.91},{"panel":"all","feh":-0.3,"r":4.13,"logS":5.84},{"panel":"all","feh":-0.3,"r":5.47,"logS":5.7},{"panel":"all","feh":-0.3,"r":6.8,"logS":5.6},{"panel":"all","feh":-0.3,"r":8.13,"logS":5.5},{"panel":"all","feh":-0.3,"r":9.47,"logS":5.37},{"panel":"all","feh":-0.3,"r":10.8,"logS":5.3},{"panel":"all","feh":-0.3,"r":12.13,"logS":5.17},{"panel":"all","feh":-0.3,"r":12.93,"logS":4.97},{"panel":"all","feh":-0.3,"r":13.6,"logS":4.36},
{"panel":"all","feh":-0.6,"r":3.0,"logS":5.3},{"panel":"all","feh":-0.6,"r":3.6,"logS":5.34},{"panel":"all","feh":-0.6,"r":4.67,"logS":5.34},{"panel":"all","feh":-0.6,"r":6.0,"logS":5.34},{"panel":"all","feh":-0.6,"r":7.33,"logS":5.37},{"panel":"all","feh":-0.6,"r":8.67,"logS":5.3},{"panel":"all","feh":-0.6,"r":10.27,"logS":5.23},{"panel":"all","feh":-0.6,"r":11.6,"logS":5.17},{"panel":"all","feh":-0.6,"r":12.93,"logS":5.1},{"panel":"all","feh":-0.6,"r":14.0,"logS":4.97},{"panel":"all","feh":-0.6,"r":14.53,"logS":4.83},

{"panel":"8","feh":0.1,"r":3.01,"logS":6.68},{"panel":"8","feh":0.1,"r":3.55,"logS":6.77},{"panel":"8","feh":0.1,"r":4.35,"logS":6.71},{"panel":"8","feh":0.1,"r":5.68,"logS":6.54},{"panel":"8","feh":0.1,"r":6.75,"logS":6.34},{"panel":"8","feh":0.1,"r":7.81,"logS":6.07},{"panel":"8","feh":0.1,"r":8.61,"logS":5.7},{"panel":"8","feh":0.1,"r":9.15,"logS":5.17},{"panel":"8","feh":0.1,"r":9.55,"logS":4.56},
{"panel":"8","feh":0,"r":3.07,"logS":6.31},{"panel":"8","feh":0,"r":3.41,"logS":6.64},{"panel":"8","feh":0,"r":4.08,"logS":6.74},{"panel":"8","feh":0,"r":5.41,"logS":6.61},{"panel":"8","feh":0,"r":6.75,"logS":6.44},{"panel":"8","feh":0,"r":7.81,"logS":6.17},{"panel":"8","feh":0,"r":8.88,"logS":5.84},{"panel":"8","feh":0,"r":9.95,"logS":5.37},{"panel":"8","feh":0,"r":10.61,"logS":4.7},{"panel":"8","feh":0,"r":11.01,"logS":4.43},
{"panel":"8","feh":0.2,"r":3.01,"logS":6.71},{"panel":"8","feh":0.2,"r":3.81,"logS":6.74},{"panel":"8","feh":0.2,"r":4.88,"logS":6.64},{"panel":"8","feh":0.2,"r":5.95,"logS":6.51},{"panel":"8","feh":0.2,"r":7.01,"logS":6.24},{"panel":"8","feh":0.2,"r":7.55,"logS":5.97},{"panel":"8","feh":0.2,"r":7.95,"logS":5.57},{"panel":"8","feh":0.2,"r":8.35,"logS":5.03},{"panel":"8","feh":0.2,"r":8.4,"logS":4.83},
{"panel":"8","feh":0.3,"r":3.01,"logS":6.61},{"panel":"8","feh":0.3,"r":4.08,"logS":6.54},{"panel":"8","feh":0.3,"r":5.15,"logS":6.38},{"panel":"8","feh":0.3,"r":5.68,"logS":6.17},{"panel":"8","feh":0.3,"r":6.08,"logS":5.84},{"panel":"8","feh":0.3,"r":6.48,"logS":5.44},{"panel":"8","feh":0.3,"r":6.75,"logS":4.83},
{"panel":"8","feh":-0.1,"r":3.15,"logS":5.37},{"panel":"8","feh":-0.1,"r":3.41,"logS":5.97},{"panel":"8","feh":-0.1,"r":3.81,"logS":6.38},{"panel":"8","feh":-0.1,"r":4.35,"logS":6.48},{"panel":"8","feh":-0.1,"r":5.41,"logS":6.44},{"panel":"8","feh":-0.1,"r":6.75,"logS":6.31},{"panel":"8","feh":-0.1,"r":8.08,"logS":6.11},{"panel":"8","feh":-0.1,"r":9.41,"logS":5.87},{"panel":"8","feh":-0.1,"r":10.48,"logS":5.64},{"panel":"8","feh":-0.1,"r":11.28,"logS":5.23},{"panel":"8","feh":-0.1,"r":11.95,"logS":4.43},
{"panel":"8","feh":-0.2,"r":3.55,"logS":5.34},{"panel":"8","feh":-0.2,"r":3.95,"logS":5.97},{"panel":"8","feh":-0.2,"r":4.48,"logS":6.24},{"panel":"8","feh":-0.2,"r":5.41,"logS":6.24},{"panel":"8","feh":-0.2,"r":6.75,"logS":6.17},{"panel":"8","feh":-0.2,"r":8.08,"logS":6.01},{"panel":"8","feh":-0.2,"r":9.41,"logS":5.81},{"panel":"8","feh":-0.2,"r":10.48,"logS":5.64},{"panel":"8","feh":-0.2,"r":11.55,"logS":5.37},{"panel":"8","feh":-0.2,"r":12.35,"logS":4.97},{"panel":"8","feh":-0.2,"r":12.88,"logS":4.56},
{"panel":"8","feh":-0.3,"r":4.08,"logS":5.3},{"panel":"8","feh":-0.3,"r":4.88,"logS":5.6},{"panel":"8","feh":-0.3,"r":5.68,"logS":5.65},{"panel":"8","feh":-0.3,"r":6.75,"logS":5.64},{"panel":"8","feh":-0.3,"r":8.08,"logS":5.54},{"panel":"8","feh":-0.3,"r":9.41,"logS":5.44},{"panel":"8","feh":-0.3,"r":10.75,"logS":5.3},{"panel":"8","feh":-0.3,"r":12.08,"logS":5.1},{"panel":"8","feh":-0.3,"r":13.15,"logS":4.77},{"panel":"8","feh":-0.3,"r":13.55,"logS":4.53},
{"panel":"8","feh":-0.4,"r":4.88,"logS":4.93},{"panel":"8","feh":-0.4,"r":5.68,"logS":5.37},{"panel":"8","feh":-0.4,"r":6.48,"logS":5.67},{"panel":"8","feh":-0.4,"r":7.55,"logS":5.84},{"panel":"8","feh":-0.4,"r":8.61,"logS":5.83},{"panel":"8","feh":-0.4,"r":9.68,"logS":5.74},{"panel":"8","feh":-0.4,"r":10.75,"logS":5.6},{"panel":"8","feh":-0.4,"r":12.08,"logS":5.37},{"panel":"8","feh":-0.4,"r":13.15,"logS":5.13},{"panel":"8","feh":-0.4,"r":14.21,"logS":4.83},{"panel":"8","feh":-0.4,"r":14.61,"logS":4.43},
{"panel":"8","feh":-0.5,"r":6.88,"logS":4.63},{"panel":"8","feh":-0.5,"r":7.55,"logS":5.03},{"panel":"8","feh":-0.5,"r":8.35,"logS":5.3},{"panel":"8","feh":-0.5,"r":9.41,"logS":5.5},{"panel":"8","feh":-0.5,"r":10.48,"logS":5.4},{"panel":"8","feh":-0.5,"r":11.55,"logS":5.3},{"panel":"8","feh":-0.5,"r":12.61,"logS":5.17},{"panel":"8","feh":-0.5,"r":13.68,"logS":5.03},{"panel":"8","feh":-0.5,"r":14.75,"logS":4.83},{"panel":"8","feh":-0.5,"r":15.0,"logS":4.63},
{"panel":"8","feh":-0.6,"r":9.01,"logS":4.8},{"panel":"8","feh":-0.6,"r":9.68,"logS":5.0},{"panel":"8","feh":-0.6,"r":10.48,"logS":5.1},{"panel":"8","feh":-0.6,"r":11.55,"logS":5.17},{"panel":"8","feh":-0.6,"r":12.61,"logS":5.03},{"panel":"8","feh":-0.6,"r":13.68,"logS":4.97},{"panel":"8","feh":-0.6,"r":14.75,"logS":4.87},{"panel":"8","feh":-0.6,"r":15.0,"logS":4.83},

{"panel":"6","feh":0.2,"r":3.08,"logS":6.21},{"panel":"6","feh":0.2,"r":3.35,"logS":6.48},{"panel":"6","feh":0.2,"r":3.87,"logS":6.61},{"panel":"6","feh":0.2,"r":4.52,"logS":6.64},{"panel":"6","feh":0.2,"r":5.57,"logS":6.54},{"panel":"6","feh":0.2,"r":6.62,"logS":6.31},{"panel":"6","feh":0.2,"r":7.4,"logS":5.97},{"panel":"6","feh":0.2,"r":7.79,"logS":5.57},{"panel":"6","feh":0.2,"r":8.06,"logS":4.63},
{"panel":"6","feh":0.1,"r":3.35,"logS":5.74},{"panel":"6","feh":0.1,"r":3.74,"logS":6.48},{"panel":"6","feh":0.1,"r":4.26,"logS":6.66},{"panel":"6","feh":0.1,"r":5.05,"logS":6.64},{"panel":"6","feh":0.1,"r":6.09,"logS":6.58},{"panel":"6","feh":0.1,"r":7.14,"logS":6.38},{"panel":"6","feh":0.1,"r":8.19,"logS":6.04},{"panel":"6","feh":0.1,"r":8.97,"logS":5.64},{"panel":"6","feh":0.1,"r":9.37,"logS":4.66},
{"panel":"6","feh":0.3,"r":3.0,"logS":6.17},{"panel":"6","feh":0.3,"r":3.21,"logS":6.48},{"panel":"6","feh":0.3,"r":3.61,"logS":6.54},{"panel":"6","feh":0.3,"r":4.26,"logS":6.51},{"panel":"6","feh":0.3,"r":5.31,"logS":6.28},{"panel":"6","feh":0.3,"r":5.96,"logS":5.91},{"panel":"6","feh":0.3,"r":6.49,"logS":5.3},{"panel":"6","feh":0.3,"r":6.75,"logS":4.63},
{"panel":"6","feh":0,"r":3.74,"logS":5.64},{"panel":"6","feh":0,"r":4.0,"logS":6.24},{"panel":"6","feh":0,"r":4.52,"logS":6.58},{"panel":"6","feh":0,"r":5.57,"logS":6.58},{"panel":"6","feh":0,"r":6.88,"logS":6.48},{"panel":"6","feh":0,"r":7.93,"logS":6.17},{"panel":"6","feh":0,"r":8.97,"logS":5.91},{"panel":"6","feh":0,"r":9.76,"logS":5.57},{"panel":"6","feh":0,"r":10.54,"logS":4.97},{"panel":"6","feh":0,"r":10.81,"logS":4.56},
{"panel":"6","feh":-0.1,"r":3.79,"logS":4.9},{"panel":"6","feh":-0.1,"r":4.13,"logS":5.7},{"panel":"6","feh":-0.1,"r":4.65,"logS":6.07},{"panel":"6","feh":-0.1,"r":5.57,"logS":6.24},{"panel":"6","feh":-0.1,"r":6.09,"logS":6.31},{"panel":"6","feh":-0.1,"r":7.14,"logS":6.24},{"panel":"6","feh":-0.1,"r":8.45,"logS":6.07},{"panel":"6","feh":-0.1,"r":9.5,"logS":5.84},{"panel":"6","feh":-0.1,"r":10.54,"logS":5.54},{"panel":"6","feh":-0.1,"r":11.33,"logS":5.1},{"panel":"6","feh":-0.1,"r":11.59,"logS":4.63},
{"panel":"6","feh":-0.2,"r":4.73,"logS":5.3},{"panel":"6","feh":-0.2,"r":5.31,"logS":5.5},{"panel":"6","feh":-0.2,"r":6.36,"logS":5.77},{"panel":"6","feh":-0.2,"r":7.4,"logS":5.84},{"panel":"6","feh":-0.2,"r":8.71,"logS":5.77},{"panel":"6","feh":-0.2,"r":9.76,"logS":5.64},{"panel":"6","feh":-0.2,"r":10.81,"logS":5.37},{"panel":"6","feh":-0.2,"r":11.85,"logS":5.03},{"panel":"6","feh":-0.2,"r":12.43,"logS":4.7},
{"panel":"6","feh":-0.3,"r":6.04,"logS":4.7},{"panel":"6","feh":-0.3,"r":6.88,"logS":4.97},{"panel":"6","feh":-0.3,"r":7.93,"logS":5.17},{"panel":"6","feh":-0.3,"r":8.97,"logS":5.3},{"panel":"6","feh":-0.3,"r":10.02,"logS":5.34},{"panel":"6","feh":-0.3,"r":11.07,"logS":5.3},{"panel":"6","feh":-0.3,"r":11.85,"logS":5.1},{"panel":"6","feh":-0.3,"r":12.9,"logS":4.77},{"panel":"6","feh":-0.3,"r":13.43,"logS":4.36},
{"panel":"6","feh":-0.4,"r":8.06,"logS":4.93},{"panel":"6","feh":-0.4,"r":8.97,"logS":5.37},{"panel":"6","feh":-0.4,"r":9.76,"logS":5.5},{"panel":"6","feh":-0.4,"r":10.54,"logS":5.57},{"panel":"6","feh":-0.4,"r":11.33,"logS":5.5},{"panel":"6","feh":-0.4,"r":12.12,"logS":5.4},{"panel":"6","feh":-0.4,"r":13.16,"logS":5.23},{"panel":"6","feh":-0.4,"r":13.95,"logS":4.9},{"panel":"6","feh":-0.4,"r":14.6,"logS":4.53},
{"panel":"6","feh":-0.5,"r":9.76,"logS":4.63},{"panel":"6","feh":-0.5,"r":10.54,"logS":5.1},{"panel":"6","feh":-0.5,"r":11.33,"logS":5.27},{"panel":"6","feh":-0.5,"r":12.12,"logS":5.3},{"panel":"6","feh":-0.5,"r":13.16,"logS":5.23},{"panel":"6","feh":-0.5,"r":13.95,"logS":5.17},{"panel":"6","feh":-0.5,"r":14.73,"logS":4.97},{"panel":"6","feh":-0.5,"r":14.99,"logS":4.73},
{"panel":"6","feh":-0.6,"r":11.33,"logS":4.56},{"panel":"6","feh":-0.6,"r":11.85,"logS":4.83},{"panel":"6","feh":-0.6,"r":12.64,"logS":4.97},{"panel":"6","feh":-0.6,"r":13.69,"logS":4.97},{"panel":"6","feh":-0.6,"r":14.47,"logS":4.9},{"panel":"6","feh":-0.6,"r":14.99,"logS":4.8},

{"panel":"4","feh":0.3,"r":3.41,"logS":5.3},{"panel":"4","feh":0.3,"r":3.55,"logS":5.64},{"panel":"4","feh":0.3,"r":3.81,"logS":6.24},{"panel":"4","feh":0.3,"r":4.21,"logS":6.41},{"panel":"4","feh":0.3,"r":4.88,"logS":6.38},{"panel":"4","feh":0.3,"r":5.68,"logS":6.17},{"panel":"4","feh":0.3,"r":6.21,"logS":5.84},{"panel":"4","feh":0.3,"r":6.61,"logS":5.3},{"panel":"4","feh":0.3,"r":6.96,"logS":4.56},
{"panel":"4","feh":0.2,"r":3.68,"logS":5.3},{"panel":"4","feh":0.2,"r":3.81,"logS":5.84},{"panel":"4","feh":0.2,"r":4.21,"logS":6.31},{"panel":"4","feh":0.2,"r":4.75,"logS":6.48},{"panel":"4","feh":0.2,"r":5.41,"logS":6.46},{"panel":"4","feh":0.2,"r":6.48,"logS":6.17},{"panel":"4","feh":0.2,"r":7.28,"logS":5.77},{"panel":"4","feh":0.2,"r":7.81,"logS":5.3},{"panel":"4","feh":0.2,"r":8.08,"logS":4.77},
{"panel":"4","feh":0.1,"r":3.87,"logS":5.27},{"panel":"4","feh":0.1,"r":4.08,"logS":5.87},{"panel":"4","feh":0.1,"r":4.61,"logS":6.24},{"panel":"4","feh":0.1,"r":5.28,"logS":6.41},{"panel":"4","feh":0.1,"r":5.95,"logS":6.48},{"panel":"4","feh":0.1,"r":6.75,"logS":6.41},{"panel":"4","feh":0.1,"r":7.81,"logS":6.11},{"panel":"4","feh":0.1,"r":8.61,"logS":5.64},{"panel":"4","feh":0.1,"r":9.28,"logS":5.0},
{"panel":"4","feh":0,"r":4.16,"logS":5.07},{"panel":"4","feh":0,"r":4.61,"logS":5.57},{"panel":"4","feh":0,"r":5.15,"logS":5.97},{"panel":"4","feh":0,"r":5.95,"logS":6.24},{"panel":"4","feh":0,"r":6.75,"logS":6.31},{"panel":"4","feh":0,"r":7.55,"logS":6.24},{"panel":"4","feh":0,"r":8.61,"logS":5.97},{"panel":"4","feh":0,"r":9.41,"logS":5.64},{"panel":"4","feh":0,"r":10.21,"logS":5.1},{"panel":"4","feh":0,"r":10.8,"logS":4.53},
{"panel":"4","feh":-0.1,"r":5.28,"logS":5.1},{"panel":"4","feh":-0.1,"r":5.95,"logS":5.57},{"panel":"4","feh":-0.1,"r":6.75,"logS":5.84},{"panel":"4","feh":-0.1,"r":7.55,"logS":5.97},{"panel":"4","feh":-0.1,"r":8.35,"logS":5.94},{"panel":"4","feh":-0.1,"r":9.15,"logS":5.77},{"panel":"4","feh":-0.1,"r":9.95,"logS":5.5},{"panel":"4","feh":-0.1,"r":10.75,"logS":5.1},{"panel":"4","feh":-0.1,"r":11.28,"logS":4.7},{"panel":"4","feh":-0.1,"r":11.95,"logS":4.33},
{"panel":"4","feh":-0.2,"r":6.48,"logS":4.78},{"panel":"4","feh":-0.2,"r":7.28,"logS":5.1},{"panel":"4","feh":-0.2,"r":8.08,"logS":5.37},{"panel":"4","feh":-0.2,"r":9.15,"logS":5.56},{"panel":"4","feh":-0.2,"r":9.95,"logS":5.54},{"panel":"4","feh":-0.2,"r":10.75,"logS":5.37},{"panel":"4","feh":-0.2,"r":11.55,"logS":5.03},{"panel":"4","feh":-0.2,"r":12.35,"logS":4.7},{"panel":"4","feh":-0.2,"r":12.83,"logS":4.43},
{"panel":"4","feh":-0.3,"r":8.75,"logS":4.66},{"panel":"4","feh":-0.3,"r":9.41,"logS":4.87},{"panel":"4","feh":-0.3,"r":10.21,"logS":5.03},{"panel":"4","feh":-0.3,"r":11.01,"logS":5.17},{"panel":"4","feh":-0.3,"r":11.81,"logS":5.1},{"panel":"4","feh":-0.3,"r":12.61,"logS":4.9},{"panel":"4","feh":-0.3,"r":13.15,"logS":4.63},{"panel":"4","feh":-0.3,"r":13.55,"logS":4.36},
{"panel":"4","feh":-0.4,"r":9.95,"logS":4.6},{"panel":"4","feh":-0.4,"r":10.75,"logS":4.97},{"panel":"4","feh":-0.4,"r":11.55,"logS":5.27},{"panel":"4","feh":-0.4,"r":12.21,"logS":5.34},{"panel":"4","feh":-0.4,"r":12.88,"logS":5.23},{"panel":"4","feh":-0.4,"r":13.68,"logS":4.97},{"panel":"4","feh":-0.4,"r":14.35,"logS":4.63},
{"panel":"4","feh":-0.5,"r":11.55,"logS":4.5},{"panel":"4","feh":-0.5,"r":12.35,"logS":4.77},{"panel":"4","feh":-0.5,"r":13.15,"logS":5.0},{"panel":"4","feh":-0.5,"r":13.68,"logS":5.07},{"panel":"4","feh":-0.5,"r":14.21,"logS":4.93},{"panel":"4","feh":-0.5,"r":14.75,"logS":4.63},{"panel":"4","feh":-0.5,"r":14.96,"logS":4.46},
{"panel":"4","feh":-0.6,"r":13.15,"logS":4.66},{"panel":"4","feh":-0.6,"r":13.68,"logS":4.77},{"panel":"4","feh":-0.6,"r":14.21,"logS":4.87},{"panel":"4","feh":-0.6,"r":14.75,"logS":4.9},{"panel":"4","feh":-0.6,"r":14.96,"logS":4.83},

{"panel":"2","feh":0.3,"r":3.55,"logS":4.87},{"panel":"2","feh":0.3,"r":3.81,"logS":5.57},{"panel":"2","feh":0.3,"r":4.21,"logS":5.97},{"panel":"2","feh":0.3,"r":4.74,"logS":6.14},{"panel":"2","feh":0.3,"r":5.27,"logS":6.11},{"panel":"2","feh":0.3,"r":5.8,"logS":5.84},{"panel":"2","feh":0.3,"r":6.33,"logS":5.3},{"panel":"2","feh":0.3,"r":6.86,"logS":4.87},
{"panel":"2","feh":0.2,"r":4.08,"logS":5.22},{"panel":"2","feh":0.2,"r":4.48,"logS":5.7},{"panel":"2","feh":0.2,"r":5.01,"logS":6.01},{"panel":"2","feh":0.2,"r":5.53,"logS":6.15},{"panel":"2","feh":0.2,"r":6.06,"logS":6.11},{"panel":"2","feh":0.2,"r":6.59,"logS":5.91},{"panel":"2","feh":0.2,"r":7.12,"logS":5.57},{"panel":"2","feh":0.2,"r":7.65,"logS":5.17},{"panel":"2","feh":0.2,"r":7.97,"logS":4.78},
{"panel":"2","feh":0.1,"r":4.87,"logS":4.93},{"panel":"2","feh":0.1,"r":5.14,"logS":5.44},{"panel":"2","feh":0.1,"r":5.53,"logS":5.91},{"panel":"2","feh":0.1,"r":6.06,"logS":6.11},{"panel":"2","feh":0.1,"r":6.59,"logS":6.12},{"panel":"2","feh":0.1,"r":7.39,"logS":5.97},{"panel":"2","feh":0.1,"r":8.18,"logS":5.64},{"panel":"2","feh":0.1,"r":8.97,"logS":5.17},{"panel":"2","feh":0.1,"r":9.63,"logS":4.46},
{"panel":"2","feh":0,"r":5.4,"logS":4.9},{"panel":"2","feh":0,"r":5.8,"logS":5.3},{"panel":"2","feh":0,"r":6.33,"logS":5.64},{"panel":"2","feh":0,"r":7.12,"logS":5.87},{"panel":"2","feh":0,"r":7.92,"logS":5.91},{"panel":"2","feh":0,"r":8.71,"logS":5.7},{"panel":"2","feh":0,"r":9.5,"logS":5.3},{"panel":"2","feh":0,"r":10.03,"logS":4.97},{"panel":"2","feh":0,"r":10.51,"logS":4.7},
{"panel":"2","feh":-0.1,"r":6.54,"logS":4.8},{"panel":"2","feh":-0.1,"r":7.12,"logS":5.03},{"panel":"2","feh":-0.1,"r":7.92,"logS":5.3},{"panel":"2","feh":-0.1,"r":8.71,"logS":5.5},{"panel":"2","feh":-0.1,"r":9.5,"logS":5.58},{"panel":"2","feh":-0.1,"r":10.3,"logS":5.44},{"panel":"2","feh":-0.1,"r":11.09,"logS":5.17},{"panel":"2","feh":-0.1,"r":11.62,"logS":4.83},{"panel":"2","feh":-0.1,"r":11.88,"logS":4.38},
{"panel":"2","feh":-0.2,"r":7.97,"logS":4.53},{"panel":"2","feh":-0.2,"r":8.71,"logS":4.7},{"panel":"2","feh":-0.2,"r":9.5,"logS":4.97},{"panel":"2","feh":-0.2,"r":10.3,"logS":5.13},{"panel":"2","feh":-0.2,"r":11.09,"logS":5.13},{"panel":"2","feh":-0.2,"r":11.62,"logS":5.03},{"panel":"2","feh":-0.2,"r":12.02,"logS":4.8},
{"panel":"2","feh":-0.3,"r":10.43,"logS":4.5},{"panel":"2","feh":-0.3,"r":10.96,"logS":4.7},{"panel":"2","feh":-0.3,"r":11.62,"logS":4.83},{"panel":"2","feh":-0.3,"r":12.15,"logS":4.77},{"panel":"2","feh":-0.3,"r":12.68,"logS":4.63},{"panel":"2","feh":-0.3,"r":13.26,"logS":4.3},
{"panel":"2","feh":-0.4,"r":12.15,"logS":4.57},{"panel":"2","feh":-0.4,"r":12.68,"logS":4.77},{"panel":"2","feh":-0.4,"r":13.21,"logS":4.97},{"panel":"2","feh":-0.4,"r":13.74,"logS":4.9},{"panel":"2","feh":-0.4,"r":14.26,"logS":4.77},{"panel":"2","feh":-0.4,"r":14.79,"logS":4.57},
{"panel":"2","feh":-0.5,"r":13.47,"logS":4.53},{"panel":"2","feh":-0.5,"r":14.0,"logS":4.77},{"panel":"2","feh":-0.5,"r":14.53,"logS":4.8},{"panel":"2","feh":-0.5,"r":14.98,"logS":4.67},
{"panel":"2","feh":-0.6,"r":14.53,"logS":4.26},{"panel":"2","feh":-0.6,"r":14.79,"logS":4.43},{"panel":"2","feh":-0.6,"r":14.98,"logS":4.46}
]
},
"spacing":-4,
"vconcat":[
{
 "data":{"name":"top"},
 "facet":{"column":{"field":"panel","type":"nominal","sort":["all","8","6","4","2"],"header":{"title":null,"labels":false}}},
 "spacing":4,
 "spec":{
  "width":151,"height":152,
  "layer":[
   {"transform":[{"filter":"isValid(datum.r)"}],
    "mark":{"type":"line","strokeWidth":1.2,"clip":true},
    "encoding":{
     "x":{"field":"r","type":"quantitative","scale":{"domain":[3,15],"nice":false,"zero":false},
       "axis":{"title":"r [kpc]","values":[4,5,6,7,8,9,10,11,12,13,14],"labelExpr":"datum.value%2==0?datum.value+'':''","gridOpacity":{"condition":{"test":"datum.value%2!=0","value":0},"value":0.55}}},
     "y":{"field":"logS","type":"quantitative","scale":{"domain":[4,7],"nice":false,"zero":false},
       "axis":{"title":"Σ [M⊙/kpc²]","values":[4,4.30103,4.47712,4.60206,4.69897,4.77815,4.8451,4.90309,4.95424,5,5.30103,5.47712,5.60206,5.69897,5.77815,5.8451,5.90309,5.95424,6,6.30103,6.47712,6.60206,6.69897,6.77815,6.8451,6.90309,6.95424,7],"labelExpr":"datum.value==4?'10⁴':datum.value==5?'10⁵':datum.value==6?'10⁶':datum.value==7?'10⁷':''","gridOpacity":{"condition":{"test":"datum.value%1!=0","value":0},"value":0.55}}},
     "stroke":{"field":"feh","type":"quantitative",
       "scale":{"type":"quantize","domain":[-0.65,0.35],"range":["#0000a8","#0000a8","#1e3cff","#1e3cff","#3f74f0","#3f74f0","#5ef0ff","#5ef0ff","#7ff08c","#7ff08c","#a8e810","#a8e810","#ffdf00","#ffdf00","#ff5500","#ff5500","#ff0d0d","#ff0d0d","#800000","#800000"]},
       "legend":{"type":"gradient","orient":"none","direction":"horizontal","legendX":620,"legendY":-8,"gradientLength":124,"gradientThickness":8,"gradientStrokeWidth":0,"title":"[Fe/H]","titleOrient":"right","titleFontSize":10,"titlePadding":10,"labelFontSize":9,"labelOffset":-14,"labelOverlap":false,
         "labelExpr":"abs(datum.value+0.6)<0.01?'−0.6':abs(datum.value+0.4)<0.01?'−0.4':abs(datum.value+0.2)<0.01?'−0.2':abs(datum.value)<0.01?'0.':abs(datum.value-0.3)<0.01?'0.3':''"}},
     "detail":{"field":"feh","type":"nominal"}
    }},
   {"transform":[{"filter":"isValid(datum.label)"}],
    "mark":{"type":"text","align":"right","baseline":"top","fontSize":10.5,"lineBreak":"\n","lineHeight":13,"color":"#000"},
    "encoding":{
     "x":{"datum":14.65,"type":"quantitative",
       "axis":{"title":"r [kpc]","values":[4,5,6,7,8,9,10,11,12,13,14],"labelExpr":"datum.value%2==0?datum.value+'':''","gridOpacity":{"condition":{"test":"datum.value%2!=0","value":0},"value":0.55}}},
     "y":{"datum":6.87,"type":"quantitative",
       "axis":{"title":"Σ [M⊙/kpc²]","values":[4,4.30103,4.47712,4.60206,4.69897,4.77815,4.8451,4.90309,4.95424,5,5.30103,5.47712,5.60206,5.69897,5.77815,5.8451,5.90309,5.95424,6,6.30103,6.47712,6.60206,6.69897,6.77815,6.8451,6.90309,6.95424,7],"labelExpr":"datum.value==4?'10⁴':datum.value==5?'10⁵':datum.value==6?'10⁶':datum.value==7?'10⁷':''","gridOpacity":{"condition":{"test":"datum.value%1!=0","value":0},"value":0.55}}},
     "text":{"field":"label"}}},
   {"transform":[{"filter":"false"}],
    "mark":{"type":"square"},
    "encoding":{"fill":{"field":"afe_bin","type":"ordinal",
      "scale":{"domain":[0.3,0.2,0.1,0,-0.1,-0.2,-0.3,-0.4,-0.5,-0.6],"range":["#800000","#ff0d0d","#ff5500","#ffdf00","#a8e810","#7ff08c","#5ef0ff","#3f74f0","#1e3cff","#0000a8"]},
      "legend":{"orient":"none","legendX":770,"legendY":2,"direction":"vertical","symbolType":"M-0.65,-1H0.65V1H-0.65Z","symbolSize":144,"symbolStrokeWidth":0,"symbolOpacity":1,"rowPadding":0,"labelOffset":1,"labelFontSize":7.2,"title":"[α/Fe]","titleOrient":"top","titleFontSize":9,"titlePadding":2,
        "labelExpr":"datum.value>=-0.3?'0.05':'0.10'",
        "encode":{"title":{"update":{"angle":{"value":-90},"align":{"value":"right"},"baseline":{"value":"top"}}}}}}}}
  ]
 }
},
{
 "data":{"name":"bottom"},
 "facet":{"column":{"field":"panel","type":"nominal","sort":["all","8","6","4","2"],"header":{"title":null,"labels":false}}},
 "spacing":4,
 "spec":{
  "width":151,"height":149,
  "mark":{"type":"line","strokeWidth":1.2,"clip":true},
  "encoding":{
   "x":{"field":"r","type":"quantitative","scale":{"domain":[3,15],"nice":false,"zero":false},
     "axis":{"title":"rbirth [kpc]","values":[4,5,6,7,8,9,10,11,12,13,14],"labelExpr":"datum.value%2==0?datum.value+'':''","gridOpacity":{"condition":{"test":"datum.value%2!=0","value":0},"value":0.55}}},
   "y":{"field":"logS","type":"quantitative","scale":{"domain":[4,7],"nice":false,"zero":false},
     "axis":{"title":"Σ [M⊙/kpc²]","values":[4,4.30103,4.47712,4.60206,4.69897,4.77815,4.8451,4.90309,4.95424,5,5.30103,5.47712,5.60206,5.69897,5.77815,5.8451,5.90309,5.95424,6,6.30103,6.47712,6.60206,6.69897,6.77815,6.8451,6.90309,6.95424,7],"labelExpr":"datum.value==4?'10⁴':datum.value==5?'10⁵':datum.value==6?'10⁶':datum.value==7?'10⁷':''","gridOpacity":{"condition":{"test":"datum.value%1!=0","value":0},"value":0.55}}},
   "stroke":{"field":"feh","type":"quantitative",
     "scale":{"type":"quantize","domain":[-0.65,0.35],"range":["#0000a8","#0000a8","#1e3cff","#1e3cff","#3f74f0","#3f74f0","#5ef0ff","#5ef0ff","#7ff08c","#7ff08c","#a8e810","#a8e810","#ffdf00","#ffdf00","#ff5500","#ff5500","#ff0d0d","#ff0d0d","#800000","#800000"]},"legend":null},
   "detail":{"field":"feh","type":"nominal"}
  }
 }
}
]
}
